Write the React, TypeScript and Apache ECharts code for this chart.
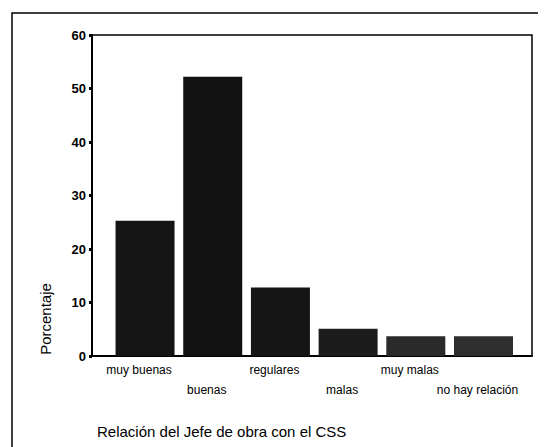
import React, { useEffect, useRef } from "react";
import * as echarts from "echarts";

const categories = ["muy buenas", "buenas", "regulares", "malas", "muy malas", "no hay relación"];
const values = [25.3, 52.2, 12.8, 5.1, 3.7, 3.7];
const barColors = ["#141414", "#111111", "#151515", "#1c1c1c", "#2a2a2a", "#2e2e2e"];
const yTicks = { min: 0, max: 60, interval: 10 };
const yName = "Porcentaje";
const titleText = "Relación del Jefe de obra con el CSS";

export default function App() {
  const ref = useRef<HTMLDivElement>(null);
  useEffect(() => {
    if (!ref.current) return;
    const chart = echarts.init(ref.current, null, { renderer: "svg" });
    const font = "'Liberation Sans', Arial, sans-serif";
    chart.setOption({
      animation: false,
      backgroundColor: "#ffffff",
      title: {
        text: titleText,
        left: 89,
        top: 416,
        padding: 0,
        textStyle: { fontFamily: font, fontSize: 15, fontWeight: "normal", color: "#000" },
      },
      graphic: [
        {
          type: "rect",
          shape: { x: 4, y: 5, width: 600, height: 460 },
          style: { fill: "none", stroke: "#000", lineWidth: 1.5 },
          silent: true,
        },
        {
          type: "text",
          x: 37,
          y: 311,
          rotation: Math.PI / 2,
          style: {
            text: yName,
            fontFamily: font,
            fontSize: 15,
            fill: "#000",
            align: "center",
            verticalAlign: "middle",
          },
        },
      ],
      grid: [
        { left: 84, right: 14, top: 27, bottom: 91, show: true, borderColor: "#000", borderWidth: 1.5 },
        { left: 103.2, right: 28.65, top: 27, bottom: 91 },
      ],
      xAxis: [
        {
          gridIndex: 0,
          type: "value",
          min: 0,
          max: 1,
          axisLine: { show: true, lineStyle: { color: "#000", width: 2 } },
          axisTick: { show: false },
          axisLabel: { show: false },
          splitLine: { show: false },
        },
        {
          gridIndex: 1,
          type: "category",
          data: categories,
          axisLine: { show: false },
          axisTick: { show: false },
          axisLabel: {
            interval: 0,
            margin: 4,
            fontFamily: font,
            fontSize: 12,
            color: "#000",
            lineHeight: 20,
            padding: [0, 12, 0, 0],
            formatter: (v: string, i: number) => (i % 2 === 1 ? "\n" + v : v),
          },
        },
      ],
      yAxis: [
        {
          gridIndex: 0,
          type: "value",
          min: yTicks.min,
          max: yTicks.max,
          interval: yTicks.interval,
          axisLine: { show: true, lineStyle: { color: "#000", width: 2 } },
          axisTick: { show: true, length: 3, lineStyle: { color: "#000", width: 3 } },
          axisLabel: { margin: 6, fontFamily: font, fontSize: 13, fontWeight: "bold", color: "#000" },
          splitLine: { show: false },
        },
        {
          gridIndex: 1,
          type: "value",
          min: yTicks.min,
          max: yTicks.max,
          show: false,
        },
      ],
      series: [
        {
          type: "bar",
          xAxisIndex: 1,
          yAxisIndex: 1,
          barWidth: 59,
          data: values.map((v, i) => ({ value: v, itemStyle: { color: barColors[i] } })),
        },
      ],
    });
    return () => chart.dispose();
  }, []);
  return <div ref={ref} style={{ width: 538, height: 439 }} />;
}
